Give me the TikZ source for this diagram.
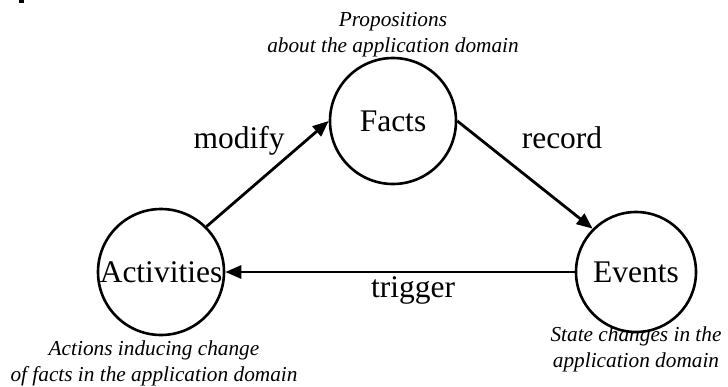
\documentclass[tikz,border=0pt]{standalone}
\usepackage{fontspec}
\setmainfont{Liberation Serif}
\usetikzlibrary{arrows.meta}
\begin{document}
\begin{tikzpicture}[x=1pt,y=-1pt,
  state/.style={circle,draw,line width=2.6pt,inner sep=0pt,
    font=\fontsize{31.5}{36}\selectfont},
  flow/.style={line width=2.8pt,-{Triangle[length=16pt,width=13pt]}},
  verb/.style={anchor=base,font=\fontsize{31.5}{36}\selectfont},
  note/.style={align=center,font=\fontsize{21.3}{26}\selectfont\itshape}]
  \useasboundingbox (0,0) rectangle (728,386);
  % small mark in the corner
  \fill (19,0) rectangle (24,2.5);
  % the three states
  \node[state,minimum size=126pt] (facts) at (393,121) {Facts};
  \node[state,minimum size=126pt] (act) at (161,272) {Activities};
  \node[state,minimum size=120pt] (events) at (636,272) {Events};
  % transitions
  \draw[flow] (act.45) -- (facts.west);
  \draw[flow] (facts.east) -- (events.135);
  \draw[flow] (events.west) -- (act.east);
  % transition labels
  \node[verb] (lmodify) at (239,148) {modify};
  \node[verb] (lrecord) at (562,148) {record};
  \node[verb] (ltrigger) at (413,297) {trigger};
  % descriptions
  \node[note] (nfacts) at (393,35) {Propositions\\about the application domain};
  \node[note] (nact) at (154,363) {Actions inducing change\\of facts in the application domain};
  \node[note] (nevents) at (636,349) {State changes in the\\application domain};
\end{tikzpicture}
\end{document}
